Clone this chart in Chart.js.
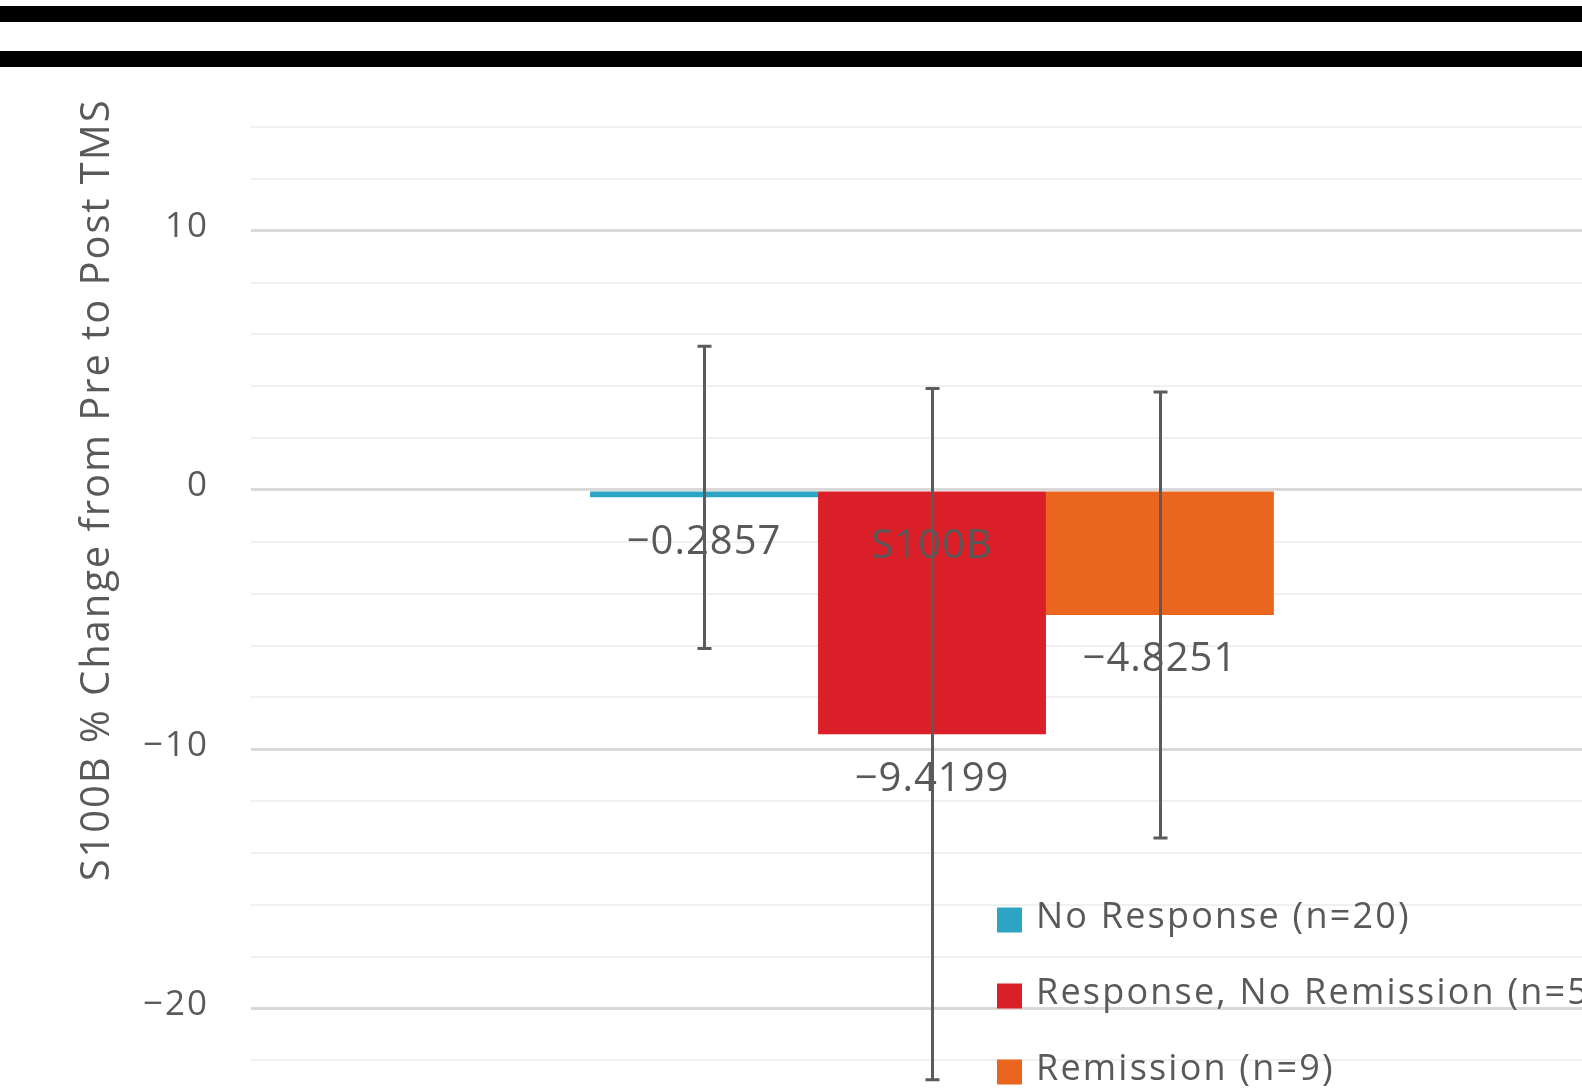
<!DOCTYPE html>
<html>
<head>
<meta charset="utf-8">
<script src="https://cdn.jsdelivr.net/npm/chart.js@4/dist/chart.umd.min.js"></script>
<style>
  html, body { margin: 0; padding: 0; background: #fff; overflow: hidden; width: 1582px; height: 1088px; }
  .rule { position: absolute; left: 0; width: 100%; background: #000; z-index: 2; }
  #c { position: absolute; left: 0; top: 0; display: block; }
</style>
</head>
<body>
<div class="rule" style="top:6px;height:16px"></div>
<div class="rule" style="top:51px;height:16px"></div>
<canvas id="c" width="1700" height="1180"></canvas>
<script>
// Chart data
const categories = ['S100B'];
const groups = ['No Response (n=20)', 'Response, No Remission (n=5)', 'Remission (n=9)'];
const meanChange = [-0.2857, -9.4199, -4.8251];
const errorSize = [5.83, 13.33, 8.6];
const yTickLabels = [10, 0, -10, -20];
const yTitle = 'S100B % Change from Pre to Post TMS';

// Styling
const palette = ['#2DA4C3', '#DA1F28', '#EA661F'];
const FAMILY = '"Open Sans", sans-serif';
const TEXT = '#595959';

const minus = s => s.replace('-', '\u2212');
const fmtValue = v => minus(v.toFixed(4));
const setSpacing = (ctx, px) => { if ('letterSpacing' in ctx) ctx.letterSpacing = px; };

// Slightly tracked text for the axis tick labels
const tracking = {
  id: 'tracking',
  beforeDraw(chart) { setSpacing(chart.ctx, '2px'); },
  afterDraw(chart) { setSpacing(chart.ctx, '0px'); }
};

// Value labels under each bar end, plus the category name at the zero line
const valueLabels = {
  id: 'valueLabels',
  afterDatasetsDraw(chart) {
    const { ctx } = chart;
    ctx.save();
    ctx.font = '40px ' + FAMILY;
    setSpacing(ctx, '1px');
    ctx.fillStyle = TEXT;
    ctx.textAlign = 'center';
    ctx.textBaseline = 'middle';
    chart.data.datasets.forEach((ds, i) => {
      const bar = chart.getDatasetMeta(i).data[0];
      ctx.fillText(fmtValue(ds.data[0]), bar.x, bar.y + 45);
    });
    const zero = chart.scales.y.getPixelForValue(0);
    chart.data.labels.forEach((lab, i) => {
      ctx.fillText(lab, chart.scales.x.getPixelForValue(i), zero + 57);
    });
    ctx.restore();
  }
};

// Error bars (mean ± error) drawn on top of everything
const errorBars = {
  id: 'errorBars',
  afterDraw(chart) {
    const { ctx } = chart;
    const y = chart.scales.y;
    ctx.save();
    ctx.strokeStyle = '#5b5b5b';
    ctx.lineWidth = 3;
    chart.data.datasets.forEach((ds, i) => {
      const bar = chart.getDatasetMeta(i).data[0];
      const v = ds.data[0];
      const e = errorSize[i];
      const top = y.getPixelForValue(v + e);
      const bot = y.getPixelForValue(v - e);
      const x = Math.round(bar.x) + 0.5;
      ctx.beginPath();
      ctx.moveTo(x, top); ctx.lineTo(x, bot);
      ctx.moveTo(x - 7, top); ctx.lineTo(x + 7, top);
      ctx.moveTo(x - 7, bot); ctx.lineTo(x + 7, bot);
      ctx.stroke();
    });
    ctx.restore();
  }
};

// Vertical legend placed inside the plot
const legendBox = {
  id: 'legendBox',
  afterDraw(chart, args, opts) {
    const { ctx } = chart;
    ctx.save();
    ctx.font = '36px ' + FAMILY;
    setSpacing(ctx, '2.2px');
    ctx.textAlign = 'left';
    ctx.textBaseline = 'middle';
    chart.data.datasets.forEach((ds, i) => {
      const cy = opts.top + i * opts.rowGap;
      ctx.fillStyle = ds.backgroundColor;
      ctx.fillRect(opts.left, cy - opts.box / 2, opts.box, opts.box);
      ctx.fillStyle = TEXT;
      ctx.fillText(ds.label, opts.left + opts.box + 14, cy - 2);
    });
    ctx.restore();
  }
};

// Rotated y-axis title
const axisTitle = {
  id: 'axisTitle',
  afterDraw(chart, args, opts) {
    const { ctx } = chart;
    ctx.save();
    ctx.font = '40px ' + FAMILY;
    setSpacing(ctx, '1.9px');
    ctx.fillStyle = TEXT;
    ctx.textAlign = 'center';
    ctx.textBaseline = 'middle';
    ctx.translate(opts.x, chart.scales.y.getPixelForValue(0));
    ctx.rotate(-Math.PI / 2);
    ctx.fillText(yTitle, 0, 0);
    ctx.restore();
  }
};

new Chart(document.getElementById('c'), {
  type: 'bar',
  data: {
    labels: categories,
    datasets: groups.map((g, i) => ({
      label: g,
      data: [meanChange[i]],
      backgroundColor: palette[i],
      borderWidth: 0
    }))
  },
  options: {
    responsive: false,
    animation: false,
    layout: { padding: { left: 0, top: 127, right: 87, bottom: 16 } },
    datasets: { bar: { categoryPercentage: 0.502, barPercentage: 1 } },
    plugins: {
      legend: { display: false },
      tooltip: { enabled: false },
      legendBox: { left: 997, top: 920, rowGap: 76, box: 25 },
      axisTitle: { x: 98 }
    },
    scales: {
      x: {
        grid: { display: false, drawTicks: false },
        border: { display: false },
        ticks: { display: false },
        afterFit(s) { s.height = 0; s.paddingLeft = 0; s.paddingRight = 0; }
      },
      y: {
        min: -26,
        max: 14,
        grid: {
          drawTicks: false,
          color: c => (c.tick && c.tick.value % 10 === 0) ? '#d9d9d9' : '#f0f0f0',
          lineWidth: c => (c.tick && c.tick.value % 10 === 0) ? 3 : 2
        },
        border: { display: false },
        ticks: {
          stepSize: 2,
          autoSkip: false,
          padding: 42,
          color: TEXT,
          font: { family: FAMILY, size: 35, lineHeight: 0.2 },
          // second empty line lifts the label a few pixels above its grid line
          callback: v => yTickLabels.includes(v) ? [minus(String(v)), ''] : ''
        },
        afterFit(s) { s.width = 251; s.paddingTop = 0; s.paddingBottom = 0; }
      }
    }
  },
  plugins: [tracking, valueLabels, errorBars, legendBox, axisTitle]
});
</script>
</body>
</html>
